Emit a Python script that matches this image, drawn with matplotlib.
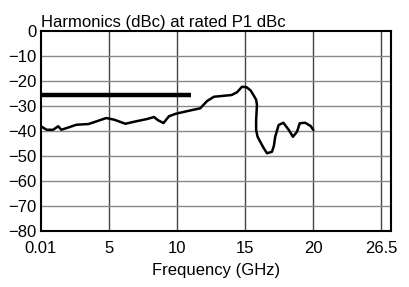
import numpy as np
import matplotlib.pyplot as plt

plt.rcParams['font.family'] = ['Liberation Sans', 'DejaVu Sans']

# axis positions (the reference axis is not linear: last tick 26.5 sits near 25)
tick_pos = [0, 5, 10, 15, 20, 25]
tick_labels = ['0.01', '5', '10', '15', '20', '26.5']
y_ticks = [0, -10, -20, -30, -40, -50, -60, -70, -80]

# spec limit line
spec_x = [0, 11.0]
spec_y = [-25.5, -25.5]

# measured harmonics curve
freq = [0, 0.42, 0.9, 1.27, 1.5, 1.9, 2.6, 3.5, 4.1, 4.8, 5.4, 6.2, 7.0, 7.8,
        8.3, 8.6, 9.0, 9.4, 9.9, 10.7, 11.2, 11.7, 12.2, 12.7, 14.0, 14.4,
        14.76, 15.1, 15.4, 15.6, 15.8, 15.86, 15.8, 15.8, 15.9, 16.1, 16.35,
        16.6, 16.96, 17.1, 17.2, 17.45, 17.8, 18.2, 18.5, 18.8, 19.0, 19.4,
        19.8, 20.0]
harm = [-38.1, -39.5, -39.5, -38.1, -39.5, -38.8, -37.5, -37.2, -36.1, -34.8,
        -35.5, -37.1, -36.1, -35.2, -34.4, -35.7, -36.8, -34.1, -33.1, -32.1,
        -31.5, -30.9, -28.0, -26.3, -25.6, -24.5, -22.3, -22.5, -23.8, -25.6,
        -27.5, -29.5, -35.6, -39.6, -42.2, -44.3, -46.8, -48.9, -48.3, -46.0,
        -42.3, -37.6, -36.7, -39.6, -42.3, -40.3, -36.9, -36.7, -38.0, -39.6]

fig = plt.figure(figsize=(4.09, 2.87), dpi=100)
ax = fig.add_axes([0.100, 0.195, 0.856, 0.697])

ax.plot(spec_x, spec_y, color='black', lw=3.2, solid_capstyle='butt')
ax.plot(freq, harm, color='black', lw=1.8, solid_joinstyle='round',
        solid_capstyle='round')

ax.set_xlim(0, 25.7)
ax.set_ylim(-80, 0)
ax.set_xticks(tick_pos)
ax.set_xticklabels(tick_labels)
ax.set_yticks(y_ticks)
ax.set_yticklabels([str(v).replace('-', '\u2212') for v in y_ticks])
ax.tick_params(length=0, labelsize=12)
ax.tick_params(axis='x', pad=7)
ax.tick_params(axis='y', pad=3)
for v in tick_pos[1:]:
    ax.axvline(v, color='#444444', lw=1.0, zorder=0)
for v in y_ticks[1:-1]:
    ax.axhline(v, color='#888888', lw=1.0, zorder=0)
for s in ax.spines.values():
    s.set_linewidth(1.5)

ax.set_xlabel('Frequency (GHz)', fontsize=12, labelpad=5)
ax.set_title('Harmonics (dBc) at rated P1 dBc', fontsize=12, loc='left', pad=3)

fig.savefig('out.png', dpi=100)
